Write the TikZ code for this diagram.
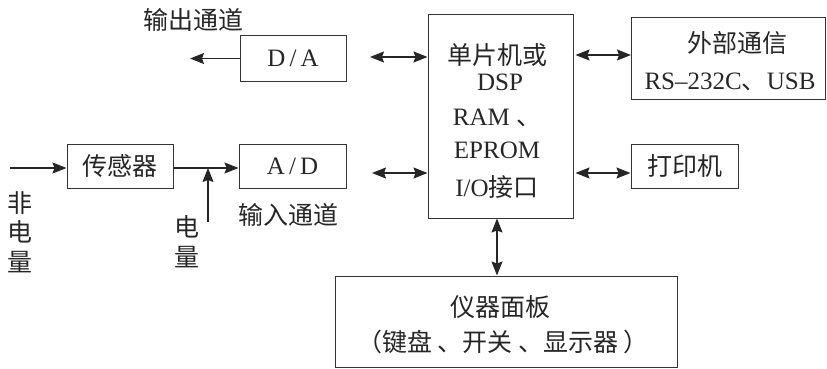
\documentclass[tikz,border=0pt]{standalone}
\usepackage{fontspec}
\setmainfont{Liberation Serif}
\newfontfamily\cjk{Noto Sans CJK SC}
\usetikzlibrary{arrows.meta}
\begin{document}
\begin{tikzpicture}[x=1pt,y=-1pt,
  every node/.style={text=black!85,font=\fontsize{25}{29}\selectfont},
  blk/.style={draw=black!80,line width=1pt,inner sep=0pt},
  lbl/.style={inner sep=0pt},
  conn/.style={draw=black!85,line width=1.1pt,-{Stealth[length=14pt,width=11pt,inset=2pt]}},
  bconn/.style={draw=black!85,line width=1.1pt,{Stealth[length=14pt,width=11pt,inset=2pt]}-{Stealth[length=14pt,width=11pt,inset=2pt]}}]
\useasboundingbox (0,0) rectangle (827,369);
% boxes
\node[blk,minimum width=106pt,minimum height=45pt] (da) at (293,58.5) {D\,/\,A};
\node[blk,minimum width=145pt,minimum height=203pt] (mcu) at (500.5,116.5) {};
\node[blk,minimum width=194pt,minimum height=81pt] (ext) at (728.5,58.5) {};
\node[blk,minimum width=107pt,minimum height=44pt] (prn) at (684.5,166) {\cjk 打印机};
\node[blk,minimum width=107pt,minimum height=44pt] (ad) at (292.5,166) {A\,/\,D};
\node[blk,minimum width=106pt,minimum height=44pt] (sen) at (120,166) {\cjk 传感器};
\node[blk,minimum width=342pt,minimum height=91pt] (pan) at (506,321.5) {};
% texts in boxes
\node[lbl] (m1) at (497,55) {\cjk 单片机或};
\node[lbl] (m2) at (500,82) {DSP};
\node[lbl] (m3) at (497,118) {RAM {\cjk 、}};
\node[lbl] (m4) at (497,150) {EPROM};
\node[lbl] (m5) at (497,187) {I/O{\cjk 接口}};
\node[lbl] (e1) at (737,43) {\cjk 外部通信};
\node[lbl] (e2) at (730,82) {RS–232C{\cjk 、}USB};
\node[lbl] (p1) at (500,307) {\cjk 仪器面板};
\node[lbl] (p2) at (503,342) {\cjk （键盘 、开关 、显示器 ）};
% free labels
\node[lbl] (out) at (193,20) {\cjk 输出通道};
\node[lbl] (in) at (288,215) {\cjk 输入通道};
\node[lbl] (d1) at (187,227) {\cjk 电};
\node[lbl] (d2) at (187,257) {\cjk 量};
\node[lbl] (f1) at (20,203) {\cjk 非};
\node[lbl] (f2) at (20,232) {\cjk 电};
\node[lbl] (f3) at (20,262) {\cjk 量};
% coordinates
\coordinate (oute) at (190,58.5);
\coordinate (dam) at (370,57);
\coordinate (adm) at (372,173);
\coordinate (src) at (10,168);
\coordinate (elec) at (208,222);
\coordinate (junc) at (208,168);
% connectors
\draw[conn] (da.west) -- (oute);
\draw[bconn] (dam) -- (mcu.west |- dam);
\draw[bconn] (adm) -- (mcu.west |- adm);
\draw[bconn] ([xshift=2pt]mcu.east |- 0,55) -- (ext.west |- 0,55);
\draw[bconn] ([xshift=2pt]mcu.east |- 0,173) -- (prn.west |- 0,173);
\draw[bconn] (mcu.south -| 497,0) -- (pan.north -| 497,0);
\draw[conn] (src) -- (sen.west |- src);
\draw[conn] (sen.east |- src) -- (ad.west |- src);
\draw[conn] (elec) -- (junc);
\end{tikzpicture}
\end{document}
